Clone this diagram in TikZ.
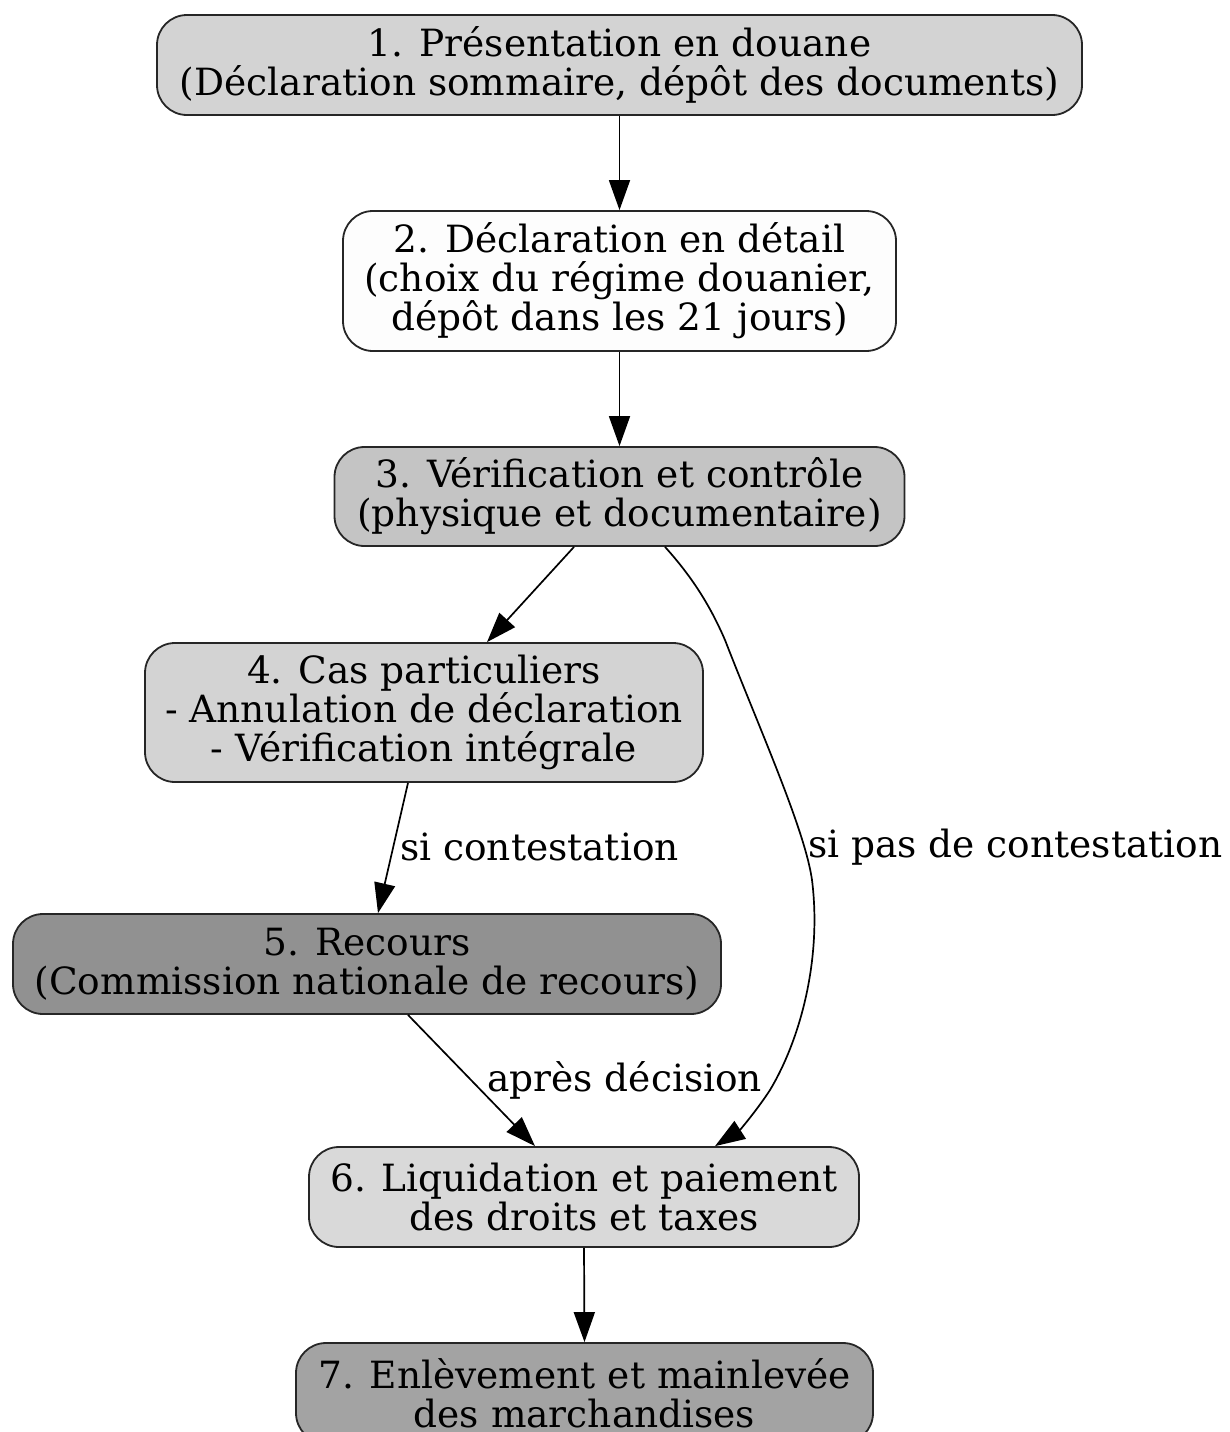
\documentclass[tikz,border=0pt]{standalone}
\usepackage{fontspec}
\setmainfont{DejaVu Serif}
\usetikzlibrary{arrows.meta}
\definecolor{cA}{HTML}{D3D3D3}
\definecolor{cB}{HTML}{FDFDFD}
\definecolor{cC}{HTML}{C4C4C4}
\definecolor{cD}{HTML}{D3D3D3}
\definecolor{cE}{HTML}{919191}
\definecolor{cF}{HTML}{D9D9D9}
\definecolor{cG}{HTML}{A3A3A3}
\tikzset{
  box/.style={draw=black!85, line width=1.8pt, rounded corners=30pt, align=center,
    inner sep=0pt, font=\fontsize{37.5}{39}\selectfont},
  arr/.style={-{Triangle[length=30pt,width=21pt]}, line width=1.7pt},
  lbl/.style={anchor=west, inner sep=0pt, font=\fontsize{37.5}{39}\selectfont}
}
\begin{document}
\begin{tikzpicture}[x=1pt,y=-1pt]
\useasboundingbox (0,0) rectangle (1229,1432);
\node[box, fill=cA, minimum width=925pt, minimum height=100pt] (n1) at (619.5,65)
  {1. Présentation en douane\\(Déclaration sommaire, dépôt des documents)};
\node[box, fill=cB, minimum width=553pt, minimum height=140pt] (n2) at (619.5,281)
  {2. Déclaration en détail\\(choix du régime douanier,\\dépôt dans les 21 jours)};
\node[box, fill=cC, minimum width=570pt, minimum height=99pt] (n3) at (619.5,496.5)
  {3. Vérification et contrôle\\(physique et documentaire)};
\node[box, fill=cD, minimum width=558pt, minimum height=139pt] (n4) at (424,712.5)
  {4. Cas particuliers\\- Annulation de déclaration\\- Vérification intégrale};
\node[box, fill=cE, minimum width=708pt, minimum height=100pt] (n5) at (367,964)
  {5. Recours\\(Commission nationale de recours)};
\node[box, fill=cF, minimum width=550pt, minimum height=100pt] (n6) at (584,1197)
  {6. Liquidation et paiement\\des droits et taxes};
\node[box, fill=cG, minimum width=577pt, minimum height=100pt] (n7) at (584.5,1393)
  {7. Enlèvement et mainlevée\\des marchandises};

\draw[arr] (n1.south) -- (n2.north);
\draw[arr] (n2.south) -- (n3.north);
\draw[arr] (n3.south -| 574,0) -- (n4.north -| 487,0);
\draw[arr] (n4.south -| 408,0) -- (n5.north -| 378,0);
\draw[arr] (n5.south -| 408,0) -- (n6.north -| 535,0);
\draw[arr] (n6.south) -- (n7.north);
\draw[arr] (n3.south -| 665,0) .. controls (695,580) and (712,610) .. (725,640)
  .. controls (760,730) and (805,830) .. (812,880)
  .. controls (822,960) and (800,1040) .. (770,1090)
  .. controls (757,1110) and (740,1130) .. (n6.north -| 715,0);

\node[lbl] (l1) at (400,847) {si contestation};
\node[lbl] (l2) at (808,847) {si pas de contestation};
\node[lbl] (l3) at (487,1080) {après décision};
\end{tikzpicture}
\end{document}
